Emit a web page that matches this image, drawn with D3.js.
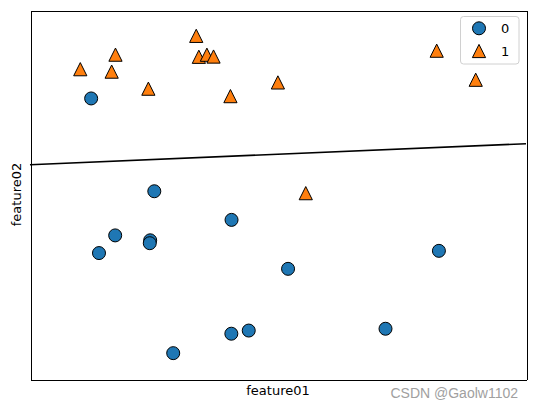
<!DOCTYPE html>
<html>
<head>
<meta charset="utf-8">
<script src="https://cdn.jsdelivr.net/npm/d3@7"></script>
<style>
  html, body { margin: 0; padding: 0; background: #fff; }
  svg { display: block; }
</style>
</head>
<body>
<svg id="chart" width="535" height="409"></svg>
<script>
// Data (forge-like dataset)
const feature01 = [9.963, 11.033, 11.542, 8.693, 8.106, 8.310, 11.930, 9.673, 8.348, 8.675, 9.177, 10.240, 8.689, 8.922, 9.491, 9.257, 7.998, 8.184, 8.734, 9.323, 10.064, 9.500, 8.345, 9.502, 9.151, 11.564];
const feature02 = [4.597, -0.168, 5.211, 1.543, 4.287, 4.806, 4.649, -0.203, 5.134, 4.476, 5.093, 2.455, 1.487, -0.640, 4.332, 5.133, 4.853, 1.296, 2.492, 5.098, 0.991, -0.264, 1.638, 1.938, 5.498, 1.339];
const labels   = [1, 0, 1, 0, 0, 1, 1, 0, 1, 1, 1, 1, 0, 0, 1, 1, 1, 0, 0, 1, 0, 0, 0, 0, 1, 0];
const classes  = [0, 1];
// Decision boundary endpoints (x, y) in data units
const lineX = [7.498, 12.430];
const lineY = [3.005, 3.412];
const xDomain = [7.498, 12.430];
const yDomain = [-1.140, 5.998];

const svg = d3.select("#chart");
const L = 30, R = 526, T = 10, B = 379;
const x = d3.scaleLinear().domain(xDomain).range([L, R]);
const y = d3.scaleLinear().domain(yDomain).range([B, T]);

const colors = { 0: "#1f77b4", 1: "#ff7f0e" };

function markerPath(c) {
  if (c === 0) {
    return "M6.5,0A6.5,6.5 0 1,1 -6.5,0A6.5,6.5 0 1,1 6.5,0Z";
  }
  return "M0,-6.6L-6.6,6.6L6.6,6.6Z";
}

const g = svg.append("g");

// points: class 0 first, then class 1
const pts = feature01.map((v, i) => ({ x: v, y: feature02[i], c: labels[i] }));
classes.forEach(c => {
  g.selectAll(null)
    .data(pts.filter(d => d.c === c))
    .enter().append("path")
    .attr("d", markerPath(c))
    .attr("transform", d => `translate(${x(d.x)},${y(d.y)})`)
    .attr("fill", colors[c])
    .attr("stroke", "#000")
    .attr("stroke-width", 1);
});

// decision line
const lineData = lineX.map((v, i) => [v, lineY[i]]);
g.append("path")
  .attr("d", d3.line().x(d => x(d[0])).y(d => y(d[1]))(lineData))
  .attr("stroke", "#000")
  .attr("stroke-width", 1.6)
  .attr("fill", "none");

// axes frame (no ticks)
function frame(axis, tx, ty) {
  svg.append("g").attr("transform", `translate(${tx},${ty})`).call(axis)
    .select(".domain").attr("stroke", "#000").attr("stroke-width", 1)
    .attr("shape-rendering", "crispEdges");
}
frame(d3.axisBottom(x).tickValues([]).tickSizeOuter(0), 0, B + 0.5);
frame(d3.axisLeft(y).tickValues([]).tickSizeOuter(0), L + 0.5, 0);
frame(d3.axisTop(x).tickValues([]).tickSizeOuter(0), 0, T + 0.5);
frame(d3.axisRight(y).tickValues([]).tickSizeOuter(0), R + 0.5, 0);

// axis labels
svg.append("text")
  .attr("x", (L + R) / 2).attr("y", 395)
  .attr("text-anchor", "middle")
  .attr("font-family", "DejaVu Sans")
  .attr("font-size", 13)
  .text("feature01");
svg.append("text")
  .attr("transform", `translate(21,${(T + B) / 2}) rotate(-90)`)
  .attr("text-anchor", "middle")
  .attr("font-family", "DejaVu Sans")
  .attr("font-size", 13)
  .text("feature02");

// legend
const lg = svg.append("g");
lg.append("rect")
  .attr("x", 460.5).attr("y", 16.5).attr("width", 58.5).attr("height", 47.5)
  .attr("rx", 3).attr("fill", "#fff").attr("fill-opacity", 0.8)
  .attr("stroke", "#d0d0d0").attr("stroke-width", 1);
classes.forEach((c, i) => {
  const cy = 28.3 + i * 22.7;
  lg.append("path")
    .attr("d", markerPath(c))
    .attr("transform", `translate(479,${cy})`)
    .attr("fill", colors[c]).attr("stroke", "#000").attr("stroke-width", 1);
  lg.append("text")
    .attr("x", 501).attr("y", cy)
    .attr("dy", "0.36em")
    .attr("font-family", "DejaVu Sans")
    .attr("font-size", 13)
    .text(String(c));
});

// watermark
svg.append("text")
  .attr("x", 518).attr("y", 398)
  .attr("text-anchor", "end")
  .attr("font-family", "Liberation Sans, Arial, sans-serif")
  .attr("font-size", 14)
  .attr("fill", "#a0a0a0")
  .text("CSDN @Gaolw1102");
</script>
</body>
</html>
